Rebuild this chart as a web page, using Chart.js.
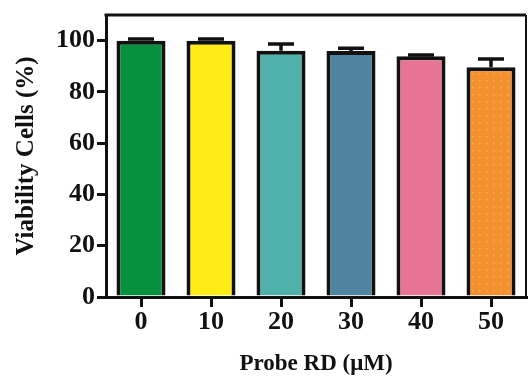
<!DOCTYPE html>
<html>
<head>
<meta charset="utf-8">
<script src="https://cdn.jsdelivr.net/npm/chart.js@4"></script>
<style>
html,body{margin:0;padding:0;background:#fff;}
#wrap{width:528px;height:378px;}
</style>
</head>
<body>
<div id="wrap"><canvas id="c" width="528" height="378"></canvas></div>
<script>
const categories = ['0', '10', '20', '30', '40', '50'];
const viability = [100, 100, 96.1, 96.0, 93.9, 89.6];
const errors = [0.6, 0.6, 2.6, 1.0, 0.5, 3.2];
const yTicks = [0, 20, 40, 60, 80, 100];
const barColors = ['#06913f', '#ffec14', '#50b0aa', '#4f84a1', '#e87493', '#f3912f'];

function dotPattern(base, dot) {
  const p = document.createElement('canvas');
  p.width = 7; p.height = 7;
  const g = p.getContext('2d');
  g.fillStyle = base; g.fillRect(0, 0, 7, 7);
  g.fillStyle = dot; g.fillRect(3, 3, 1.5, 1.5);
  return g.createPattern(p, 'repeat');
}
const fills = barColors.map((c, i) => i === 5 ? dotPattern(c, '#f7ad5f') : c);

const serif = "'Liberation Serif', 'Times New Roman', serif";

const errorBars = {
  id: 'errorBars',
  afterDatasetsDraw(chart) {
    const ctx = chart.ctx;
    const meta = chart.getDatasetMeta(0);
    const y = chart.scales.y;
    ctx.save();
    ctx.strokeStyle = '#111';
    ctx.lineWidth = 3.5;
    meta.data.forEach((bar, i) => {
      const top = y.getPixelForValue(viability[i]);
      const hi = y.getPixelForValue(viability[i] + errors[i]);
      ctx.beginPath();
      ctx.moveTo(bar.x, top);
      ctx.lineTo(bar.x, hi);
      ctx.moveTo(bar.x - 13, hi);
      ctx.lineTo(bar.x + 13, hi);
      ctx.stroke();
    });
    ctx.restore();
  }
};

const frame = {
  id: 'frame',
  afterDraw(chart) {
    const {ctx, chartArea: a} = chart;
    ctx.save();
    ctx.strokeStyle = '#111';
    ctx.lineWidth = 3;
    ctx.beginPath();
    ctx.moveTo(a.left - 1.5, a.top);
    ctx.lineTo(a.right, a.top);
    ctx.stroke();
    ctx.lineWidth = 2;
    ctx.beginPath();
    ctx.moveTo(a.right, a.top);
    ctx.lineTo(a.right, a.bottom);
    ctx.stroke();
    ctx.restore();
  }
};

new Chart(document.getElementById('c'), {
  type: 'bar',
  data: {
    labels: categories,
    datasets: [{
      data: viability,
      backgroundColor: fills,
      borderColor: '#111',
      borderWidth: 4,
      barPercentage: 0.7,
      categoryPercentage: 1.0
    }]
  },
  options: {
    responsive: false,
    animation: false,
    events: [],
    layout: { padding: { top: 15, right: 2, left: 0, bottom: 0 } },
    plugins: { legend: { display: false }, tooltip: { enabled: false } },
    scales: {
      x: {
        offset: true,
        grid: { offset: false, drawOnChartArea: false, drawTicks: true, tickLength: 10, color: '#111', lineWidth: 3 },
        border: { display: true, color: '#111', width: 3 },
        ticks: { color: '#111', font: { family: serif, size: 26, weight: 'bold' }, padding: 0, maxRotation: 0 },
        title: { display: true, text: 'Probe RD (μM)', color: '#111', font: { family: serif, size: 23, weight: 'bold' }, padding: { top: 0, bottom: 0 } },
        afterFit(s) { s.height = 81; s.paddingLeft = 0; s.paddingRight = 0; }
      },
      y: {
        min: 0,
        max: 110,
        afterBuildTicks(s) { s.ticks = yTicks.map(v => ({ value: v })); },
        grid: { drawOnChartArea: false, drawTicks: true, tickLength: 9, color: '#111', lineWidth: 3 },
        border: { display: true, color: '#111', width: 3 },
        ticks: { color: '#111', font: { family: serif, size: 26, weight: 'bold' }, padding: 2 },
        title: { display: true, text: 'Viability Cells (%)', color: '#111', font: { family: serif, size: 25, weight: 'bold' }, padding: { top: 12, bottom: 0 } },
        afterFit(s) { s.width = 106; s.paddingTop = 0; s.paddingBottom = 0; }
      }
    }
  },
  plugins: [errorBars, frame]
});
</script>
</body>
</html>
